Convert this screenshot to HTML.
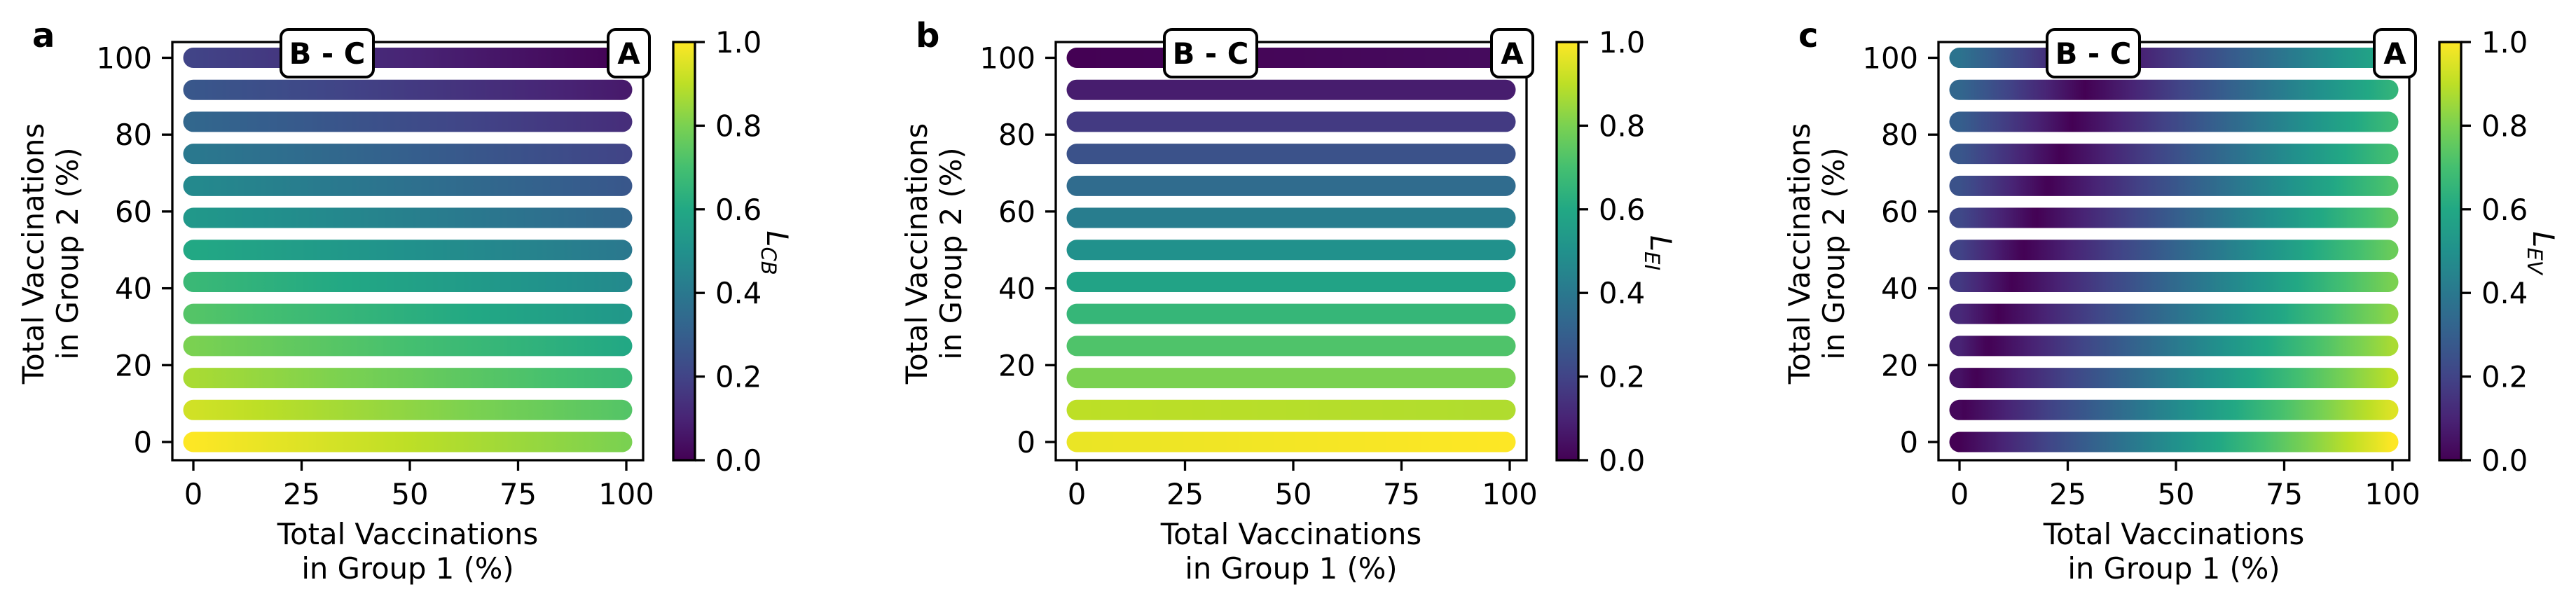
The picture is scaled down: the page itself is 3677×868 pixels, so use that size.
<!DOCTYPE html>
<html><head><meta charset="utf-8"><style>
html,body{margin:0;padding:0;background:#fff;}
svg{display:block;font-family:"DejaVu Sans","Liberation Sans",sans-serif;}
</style></head><body>
<svg id="fig" width="3677" height="868" viewBox="0 0 3677 868" xmlns="http://www.w3.org/2000/svg">
<defs id="defs"></defs>
</svg>
<script>
// ---- data ----
const rowY = [0, 8.33, 16.67, 25, 33.33, 41.67, 50, 58.33, 66.67, 75, 83.33, 91.67, 100];
const xTicks = [0, 25, 50, 75, 100];
const yTicks = [0, 20, 40, 60, 80, 100];
const cbTicks = [0, 0.2, 0.4, 0.6, 0.8, 1.0];
const panelLetters = ["a", "b", "c"];
const cbLabelSubs = ["CB", "EI", "EV"];
// panel a: value at x=0 / x=100 per row
const aLeft  = [1.0, 0.93, 0.87, 0.8, 0.73, 0.67, 0.6, 0.53, 0.47, 0.4, 0.33, 0.27, 0.2];
const aRight = [0.8, 0.73, 0.67, 0.6, 0.53, 0.47, 0.4, 0.33, 0.27, 0.2, 0.13, 0.07, 0.0];
// panel b
const bLeft  = [0.97, 0.9, 0.8, 0.72, 0.66, 0.58, 0.5, 0.42, 0.35, 0.25, 0.17, 0.08, 0.0];
const bRight = [1.0, 0.88, 0.8, 0.72, 0.66, 0.58, 0.5, 0.42, 0.35, 0.25, 0.17, 0.08, 0.03];
// panel c: left value, minimum location (x), right value
const cLeft  = [0.0, 0.02, 0.05, 0.1, 0.12, 0.17, 0.2, 0.22, 0.25, 0.27, 0.3, 0.33, 0.38];
const cMinX  = [0, 0.5, 3.7, 6.5, 9, 12.2, 14.7, 17.6, 20.4, 23.3, 26.1, 28.9, 31.5];
const cRight = [1.0, 0.95, 0.9, 0.87, 0.83, 0.8, 0.77, 0.75, 0.72, 0.7, 0.68, 0.65, 0.62];

const viridisStops = ["#440154","#482475","#414487","#355f8d","#2a788e","#21918c","#22a884","#44bf70","#7ad151","#bddf26","#fde725"];
function hex2rgb(h){return [parseInt(h.slice(1,3),16),parseInt(h.slice(3,5),16),parseInt(h.slice(5,7),16)];}
function viridis(v){
  v=Math.max(0,Math.min(1,v));
  const p=v*10, i=Math.min(9,Math.floor(p)), t=p-i;
  const a=hex2rgb(viridisStops[i]), b=hex2rgb(viridisStops[i+1]);
  return "rgb("+a.map((c,k)=>Math.round(c+(b[k]-c)*t)).join(",")+")";
}

const NS="http://www.w3.org/2000/svg";
const svg=document.getElementById("fig");
const defs=document.getElementById("defs");
function mk(tag,attrs,parent){const e=document.createElementNS(NS,tag);for(const k in attrs)e.setAttribute(k,attrs[k]);(parent||svg).appendChild(e);return e;}

const FS=41.7;
const offsets=[0,1261,2521];
const AX_L=246, AX_R=918, AX_T=60, AX_B=657;
const X0=276, X100=894, Y0=631, Y100=82.5;
const CB_L=961, CB_R=992;
const R=14.5;

offsets.forEach((off,p)=>{
  const g=mk("g",{transform:"translate("+off+",0)"});
  
  
  const X=x=>X0+(X100-X0)*x/100;
  const Y=y=>Y0+(Y100-Y0)*y/100;
  const CBY=v=>AX_B+(AX_T-AX_B)*v;

  // strips
  rowY.forEach((ry,i)=>{
    let fn;
    if(p===0) fn=x=>aLeft[i]+(aRight[i]-aLeft[i])*x/100;
    else if(p===1) fn=x=>bLeft[i]+(bRight[i]-bLeft[i])*x/100;
    else fn=x=>{const m=cMinX[i]; if(x<=m) return m>0?cLeft[i]*(m-x)/m:0; return cRight[i]*(x-m)/(100-m);};
    const gid="grad"+p+"_"+i;
    const lg=mk("linearGradient",{id:gid,gradientUnits:"userSpaceOnUse",x1:X(0),y1:0,x2:X(100),y2:0},defs);
    for(let s=0;s<=100;s+=1){mk("stop",{offset:(s/100),"stop-color":viridis(fn(s))},lg);}
    const r=mk("rect",{x:X(0)-R,y:Y(ry)-R,width:X(100)-X(0)+2*R-6,height:2*R,rx:R,ry:R,fill:"url(#"+gid+")"},g);
    
    
  });

  // axes frame
  const fr=mk("rect",{x:AX_L,y:AX_T,width:AX_R-AX_L,height:AX_B-AX_T,fill:"none",stroke:"#000","stroke-width":3.3},g);
  
  

  // x ticks
  xTicks.forEach(t=>{
    mk("line",{x1:X(t),x2:X(t),y1:AX_B,y2:AX_B+15,stroke:"#000","stroke-width":3.3},g);
    const tx=mk("text",{x:X(t),y:AX_B+63,"font-size":FS,"text-anchor":"middle"},g);
    tx.textContent=String(t);
    
    
  });
  // y ticks
  yTicks.forEach(t=>{
    mk("line",{x1:AX_L-15,x2:AX_L,y1:Y(t),y2:Y(t),stroke:"#000","stroke-width":3.3},g);
    const tx=mk("text",{x:AX_L-29,y:Y(t)+15,"font-size":FS,"text-anchor":"end"},g);
    tx.textContent=String(t);
    
    
  });

  // axis titles
  const xt=mk("text",{x:(AX_L+AX_R)/2,y:777,"font-size":FS,"text-anchor":"middle"},g);
  
  
  mk("tspan",{x:(AX_L+AX_R)/2},xt).textContent="Total Vaccinations";
  mk("tspan",{x:(AX_L+AX_R)/2,dy:49},xt).textContent="in Group 1 (%)";
  const yt=mk("text",{transform:"translate(62,362) rotate(-90)","font-size":FS,"text-anchor":"middle"},g);
  
  
  mk("tspan",{x:0,y:0},yt).textContent="Total Vaccinations";
  mk("tspan",{x:0,dy:49},yt).textContent="in Group 2 (%)";

  // panel letter
  const pl=mk("text",{x:46,y:67,"font-size":48,"font-weight":"bold"},g);
  pl.textContent=panelLetters[p];
  
  

  // annotation boxes
  [["B - C",155,132],["A",622,59]].forEach(([txt,lx,w])=>{
    const bx=mk("rect",{x:AX_L+lx,y:42,width:w,height:68,rx:11,ry:11,fill:"#fff",stroke:"#000","stroke-width":4},g);
    
    
    const t=mk("text",{x:AX_L+lx+w/2,y:91,"font-size":FS,"font-weight":"bold","text-anchor":"middle"},g);
    t.textContent=txt;
    
    
  });

  // colorbar
  const cg=mk("linearGradient",{id:"cb"+p,x1:0,y1:1,x2:0,y2:0},defs);
  for(let s=0;s<=20;s++){mk("stop",{offset:s/20,"stop-color":viridis(s/20)},cg);}
  const cb=mk("rect",{x:CB_L,y:AX_T,width:CB_R-CB_L,height:AX_B-AX_T,fill:"url(#cb"+p+")",stroke:"#000","stroke-width":3.3},g);
  
  
  cbTicks.forEach(t=>{
    mk("line",{x1:CB_R,x2:CB_R+14,y1:CBY(t),y2:CBY(t),stroke:"#000","stroke-width":3.3},g);
    const tx=mk("text",{x:CB_R+29,y:CBY(t)+15,"font-size":FS},g);
    tx.textContent=t.toFixed(1);
    
    
  });
  const cl=mk("text",{transform:"translate(1095,361) rotate(90)","font-size":FS,"text-anchor":"middle","font-style":"italic"},g);
  
  
  mk("tspan",{},cl).textContent="L";
  mk("tspan",{"font-size":29,dy:8},cl).textContent=cbLabelSubs[p];
});
</script>
</body></html>
